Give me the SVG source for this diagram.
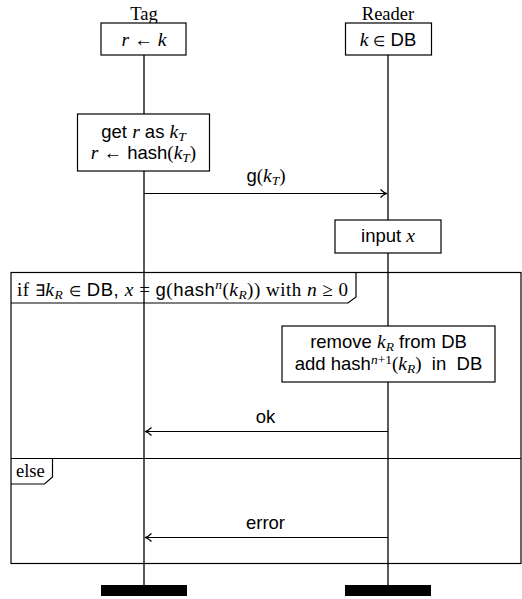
<svg xmlns="http://www.w3.org/2000/svg" width="522" height="599" viewBox="0 0 522 599">
<style>
text{font-family:"Liberation Sans",Arial,sans-serif;font-size:18.5px;fill:#000}
.hdr{font-family:"Liberation Serif","Times New Roman",serif;font-size:18.5px}
.r{font-family:"Liberation Serif","Times New Roman",serif;font-size:19px}
.m{font-family:"Liberation Serif","Times New Roman",serif;font-style:italic;font-size:19.5px}
.sub{font-size:13.5px}
.el{font-size:14px}
.ex{font-size:16px}
.box{fill:#fff;stroke:#000;stroke-width:1.2}
.life{stroke:#000;stroke-width:1.3;fill:none}
.frame{fill:none;stroke:#000;stroke-width:1.2}
.msg{stroke:#000;stroke-width:1.2;fill:none}
</style>
<defs>
<marker id="arr" markerUnits="userSpaceOnUse" markerWidth="12" markerHeight="12" refX="0" refY="0" viewBox="-8 -6 10 12" orient="auto">
<path d="M-6.5,-4 C-4,-1.5 -1.5,-0.3 0,0 C-1.5,0.3 -4,1.5 -6.5,4" fill="none" stroke="#000" stroke-width="1.2"/>
</marker>
</defs>

<g id="frame">
<rect class="frame" x="11" y="272.5" width="510" height="291"/>
<path class="frame" d="M11,303 H348 L356,297 V272.5"/>
<text x="17" y="295.5" textLength="331" lengthAdjust="spacing"><tspan class="r">if </tspan><tspan class="ex">∃</tspan><tspan class="m">k</tspan><tspan class="m sub" dy="3">R</tspan><tspan dy="-3"> </tspan><tspan class="el">∈</tspan><tspan> DB, </tspan><tspan class="m">x</tspan><tspan class="r"> = </tspan>g<tspan class="r">(</tspan>hash<tspan class="m sub" dy="-7">n</tspan><tspan class="r" dy="7">(</tspan><tspan class="m">k</tspan><tspan class="m sub" dy="3">R</tspan><tspan class="r" dy="-3">)) with </tspan><tspan class="m">n</tspan><tspan class="r"> ≥ 0</tspan></text>
<line class="frame" x1="11" y1="458.5" x2="521" y2="458.5"/>
<path class="frame" d="M11,484 H44.5 L52.5,477 V458.5"/>
<text class="hdr" x="16" y="476.5">else</text>
</g>

<g id="lifelines">
<line class="life" x1="144" y1="55" x2="144" y2="585"/>
<line class="life" x1="388" y1="55" x2="388" y2="585"/>
</g>

<g id="tag">
<text class="hdr" x="144" y="20" text-anchor="middle">Tag</text>
<rect class="box" x="101" y="23" width="85" height="32"/>
<text x="144" y="46" text-anchor="middle"><tspan class="m">r</tspan> ← <tspan class="m">k</tspan></text>
<rect x="101" y="585" width="86" height="11" fill="#000"/>
</g>

<g id="reader">
<text class="hdr" x="388" y="20" text-anchor="middle">Reader</text>
<rect class="box" x="345.5" y="23" width="86" height="32"/>
<text x="388" y="46" text-anchor="middle"><tspan class="m">k</tspan> <tspan class="el">∈</tspan> DB</text>
<rect x="345" y="585" width="86" height="11" fill="#000"/>
</g>

<g id="get">
<rect class="box" x="77.5" y="114" width="132" height="57"/>
<text x="143.5" y="137.5" text-anchor="middle">get <tspan class="m">r</tspan> as <tspan class="m">k</tspan><tspan class="m sub" dy="3">T</tspan></text>
<text x="143.5" y="159" text-anchor="middle"><tspan class="m">r</tspan> ← hash<tspan class="r">(</tspan><tspan class="m">k</tspan><tspan class="m sub" dy="3">T</tspan><tspan class="r" dy="-3">)</tspan></text>
</g>

<g id="input">
<rect class="box" x="335" y="220" width="106" height="33"/>
<text x="388" y="242" text-anchor="middle">input <tspan class="m">x</tspan></text>
</g>

<g id="remove">
<rect class="box" x="282" y="326" width="213" height="56"/>
<text x="388.5" y="347.5" text-anchor="middle">remove <tspan class="m">k</tspan><tspan class="m sub" dy="3">R</tspan><tspan dy="-3"> from DB</tspan></text>
<text x="388.5" y="370" text-anchor="middle" xml:space="preserve">add hash<tspan class="m sub" dy="-6">n</tspan><tspan class="r sub">+1</tspan><tspan class="r" dy="6">(</tspan><tspan class="m">k</tspan><tspan class="m sub" dy="3">R</tspan><tspan class="r" dy="-3">)</tspan>  in  DB</text>
</g>

<g id="connectors">
<line class="msg" x1="144" y1="193.5" x2="387" y2="193.5" marker-end="url(#arr)"/>
<text x="266" y="182" text-anchor="middle">g<tspan class="r">(</tspan><tspan class="m">k</tspan><tspan class="m sub" dy="3">T</tspan><tspan class="r" dy="-3">)</tspan></text>
<line class="msg" x1="388" y1="431.5" x2="145" y2="431.5" marker-end="url(#arr)"/>
<text x="265.5" y="422.5" text-anchor="middle">ok</text>
<line class="msg" x1="388" y1="537.5" x2="145" y2="537.5" marker-end="url(#arr)"/>
<text x="265.5" y="528.5" text-anchor="middle">error</text>
</g>
</svg>
